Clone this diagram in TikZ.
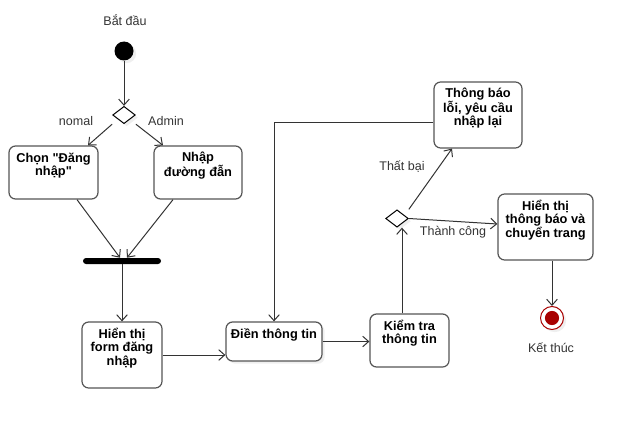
\documentclass[tikz,border=0pt]{standalone}
\usepackage{fontspec}
\setmainfont{Liberation Sans}
\usetikzlibrary{arrows.meta,shapes.geometric,shadows,calc}

\definecolor{lineclr}{HTML}{333333}
\definecolor{boxclr}{HTML}{555555}
\definecolor{endred}{HTML}{A80000}

\tikzset{
	act/.style={draw=boxclr, line width=0.9pt, rounded corners=5pt, fill=white, inner sep=0pt},
	acttext/.style={align=center, font=\fontsize{9.6}{10}\selectfont\bfseries, yshift=5.25pt},
	arr/.style={draw=lineclr, line width=0.75pt, -{Straight Barb[length=4.5pt,width=8pt]}},
	lbl/.style={font=\fontsize{9.4}{10}\selectfont, text=lineclr},
	shd/.style={drop shadow={fill=black!12, shadow xshift=2pt, shadow yshift=-2pt}},
	decision/.style={diamond, draw=black, line width=0.75pt, fill=white, inner sep=0pt, minimum width=17pt, minimum height=13pt}
}

\begin{document}
\begin{tikzpicture}[x=0.75pt, y=-0.75pt]

	\useasboundingbox (0,0) rectangle (634,428);

	\node[lbl] (startlbl) at (125,20) {Bắt đầu};
	\node[circle, fill=black, minimum size=14.25pt, inner sep=0pt, shd] (start) at (124,51) {};
	\node[decision, shd] (dec1) at (124,115) {};
	\node[lbl] (nomal) at (76,121) {nomal};
	\node[lbl] (admin) at (166,121) {Admin};

	\node[act, minimum width=66.8pt, minimum height=39.8pt, label={[acttext]center:{Chọn \textquotedbl Đăng\\nhập\textquotedbl}}] (chon) at (53.5,172.5) {};
	\node[act, minimum width=66pt, minimum height=39.8pt, label={[acttext]center:{Nhập\\đường đẫn}}] (nhap) at (198,172.5) {};

	\node[rectangle, fill=black, rounded corners=2.25pt, minimum width=58.5pt, minimum height=4.5pt, inner sep=0pt] (bar) at (122,261) {};

	\node[act, minimum width=60pt, minimum height=49.5pt, label={[acttext]center:{Hiển thị\\form đăng\\nhập}}] (form) at (122,355) {};
	\node[act, minimum width=72pt, minimum height=29.3pt, shd, label={[acttext]center:{Điền thông tin}}] (dien) at (274,341.5) {};
	\node[act, minimum width=59.3pt, minimum height=39.8pt, label={[acttext]center:{Kiểm tra\\thông tin}}] (kiem) at (409.5,340.5) {};

	\node[decision, shd] (dec2) at (397,218.5) {};
	\node[lbl] (thatbai) at (402,167) {Thất bại};
	\node[lbl] (thanhcong) at (453,232) {Thành công};

	\node[act, minimum width=66pt, minimum height=49.5pt, label={[acttext]center:{Thông báo\\lỗi, yêu cầu\\nhập lại}}] (tb) at (478,115) {};
	\node[act, minimum width=71.3pt, minimum height=49.5pt, label={[acttext]center:{Hiển thị\\thông báo và\\chuyển trang}}] (hien) at (545.5,227) {};

	\node[circle, draw=endred, line width=0.75pt, fill=white, minimum size=17.25pt, inner sep=0pt, shd] (fin) at (552,318) {};
	\fill[endred] (fin) circle (5.3pt);
	\node[lbl] (finlbl) at (551,348) {Kết thúc};

	\draw[arr] (start) -- (dec1);
	\draw[arr] (dec1.west |- dec1.south) -- ($(chon.north)+(34.5,0)$);
	\draw[arr] (dec1.east |- dec1.south) -- ($(nhap.north)+(-35,0)$);
	\draw[arr] ($(chon.south)+(23.5,0)$) -- ($(bar.north)+(-2,0)$);
	\draw[arr] ($(nhap.south)+(-25,0)$) -- ($(bar.north)+(5,0)$);
	\draw[arr] (bar) -- (form);
	\draw[arr] (form.east) -- (form.east -| dien.west);
	\draw[arr] (dien) -- (dien -| kiem.west);
	\draw[arr] ($(kiem.north)+(-7.5,0)$) coordinate (k1) -- (k1 |- dec2.south);
	\draw[arr] (dec2.east |- dec2.north) -- ($(tb.south)+(-26,0)$);
	\draw[arr] (dec2.east) -- ($(hien.west)+(0,-3)$);
	\draw[arr] ($(tb.west)+(0,7)$) -| (dien.north);
	\draw[arr] (hien.south -| fin) -- (fin.north);

\end{tikzpicture}
\end{document}
